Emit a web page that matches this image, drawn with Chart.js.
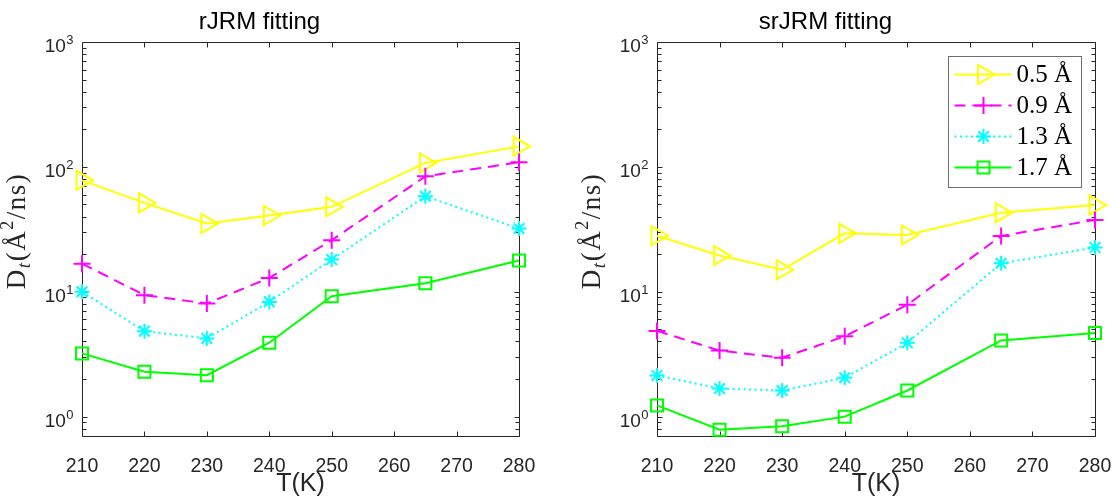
<!DOCTYPE html>
<html>
<head>
<meta charset="utf-8">
<script src="https://cdn.jsdelivr.net/npm/chart.js@4/dist/chart.umd.min.js"></script>
<style>
  body { margin: 0; background: #fff; width: 1113px; height: 497px; overflow: hidden; position: relative; }
  .panel { position: absolute; top: 0; height: 497px; }
</style>
</head>
<body>
<div class="panel" style="left:0;width:556px"><canvas id="graficoIzq"></canvas></div>
<div class="panel" style="left:556px;width:557px"><canvas id="graficoDer"></canvas></div>
<script>
// datos
const temperaturas = [210, 220, 230, 240, 250, 265, 280];
const etiquetas = ['0.5 Å', '0.9 Å', '1.3 Å', '1.7 Å'];

const rjrm05 = [78, 51.5, 35.2, 40.8, 47.9, 107.6, 146];
const rjrm09 = [16.8, 9.4, 8.06, 12.9, 25.9, 84, 109];
const rjrm13 = [10, 4.84, 4.23, 8.3, 18.1, 58.2, 32.1];
const rjrm17 = [3.21, 2.29, 2.15, 3.91, 9.2, 11.7, 17.8];

const srjrm05 = [28.1, 19.5, 15.0, 29.4, 28.5, 43, 49.5];
const srjrm09 = [4.86, 3.38, 2.96, 4.4, 7.87, 28, 37.6];
const srjrm13 = [2.14, 1.68, 1.62, 2.05, 3.9, 16.9, 22.6];
const srjrm17 = [1.23, 0.787, 0.837, 1.0, 1.62, 4.08, 4.68];

const ticksX = [210, 220, 230, 240, 250, 260, 270, 280];
const ticksY = [1, 10, 100, 1000];
const exponentes = ['0', '1', '2', '3'];

// estilo tipo MATLAB
const colores = ['#ffff00', '#ff00ff', '#00ffff', '#00ff00'];
const guiones = [[], [11, 7], [2, 3.5], []];
const marcas = ['triangle', 'cross', 'star', 'rect'];
const giros = [90, 0, 0, 0];
const radios = [11, 8.5, 7.5, 8.5];
const sans = '"Liberation Sans", Arial, Helvetica, sans-serif';
const serif = '"Liberation Serif", "Times New Roman", serif';
const colorEje = '#262626';

function serie(vals) {
  return temperaturas.map((t, i) => ({ x: t, y: vals[i] }));
}

function conjuntos(grupo) {
  return grupo.map((vals, i) => ({
    label: etiquetas[i],
    data: serie(vals),
    borderColor: colores[i],
    backgroundColor: 'rgba(0,0,0,0)',
    borderWidth: 2,
    borderDash: guiones[i],
    pointStyle: marcas[i],
    pointRotation: giros[i],
    pointRadius: radios[i],
    pointHoverRadius: radios[i],
    pointBorderWidth: 2,
    pointBorderColor: colores[i],
    pointBackgroundColor: 'rgba(0,0,0,0)',
    tension: 0,
    clip: false,
    order: 3 - i
  }));
}

// caja, ticks hacia dentro y etiquetas del eje y
const ejesMatlab = {
  id: 'ejesMatlab',
  beforeDatasetsDraw(chart) {
    const { ctx, chartArea: a, scales: { x, y } } = chart;
    ctx.save();
    ctx.strokeStyle = colorEje;
    ctx.lineWidth = 1;
    const L = Math.round(a.left) + 0.5, R = Math.round(a.right) + 0.5;
    const T = Math.round(a.top) + 0.5, B = Math.round(a.bottom) + 0.5;
    ctx.beginPath();
    ctx.rect(L, T, R - L, B - T);
    ticksX.forEach(v => {
      const px = Math.round(x.getPixelForValue(v)) + 0.5;
      ctx.moveTo(px, B); ctx.lineTo(px, B - 5);
      ctx.moveTo(px, T); ctx.lineTo(px, T + 5);
    });
    for (let d = -1; d <= 3; d++) {
      for (let k = 1; k <= 9; k++) {
        const v = k * Math.pow(10, d);
        if (v < y.min || v > y.max) continue;
        const py = Math.round(y.getPixelForValue(v)) + 0.5;
        const len = k === 1 ? 5 : 4;
        ctx.moveTo(L, py); ctx.lineTo(L + len, py);
        ctx.moveTo(R, py); ctx.lineTo(R - len, py);
      }
    }
    ctx.stroke();

    // etiquetas 10^n
    ctx.fillStyle = colorEje;
    ctx.textBaseline = 'alphabetic';
    const xFin = a.left - 8.5;
    ticksY.forEach((v, i) => {
      const py = y.getPixelForValue(v);
      ctx.font = '13px ' + sans;
      const wExp = ctx.measureText(exponentes[i]).width;
      ctx.textAlign = 'left';
      ctx.fillText(exponentes[i], xFin - wExp, py + 2);
      ctx.font = '19px ' + sans;
      ctx.textAlign = 'right';
      ctx.fillText('10', xFin - wExp - 0.5, py + 10);
    });

    // titulo del eje y: D_t(Å^2/ns)
    const partes = [
      { t: 'D', f: '27px ' + serif, dy: 0 },
      { t: 't', f: 'italic 19px ' + serif, dy: 5 },
      { t: '(Å', f: '27px ' + serif, dy: 0 },
      { t: '2', f: '18px ' + serif, dy: -12 },
      { t: '/ns)', f: '27px ' + serif, dy: 0 }
    ];
    ctx.fillStyle = colorEje;
    ctx.textAlign = 'left';
    ctx.letterSpacing = '1.5px';
    let total = 0;
    partes.forEach(p => { ctx.font = p.f; p.w = ctx.measureText(p.t).width; total += p.w; });
    ctx.translate(a.left - 57, (a.top + a.bottom) / 2 - 8);
    ctx.rotate(-Math.PI / 2);
    let cx = -total / 2;
    partes.forEach(p => { ctx.font = p.f; ctx.fillText(p.t, cx, p.dy); cx += p.w; });
    ctx.restore();
  }
};

const leyenda = {
  id: 'leyenda',
  afterDatasetsDraw(chart) {
    const { ctx, chartArea: a } = chart;
    const izq = Math.round(a.right - 147) + 0.5, arr = Math.round(a.top + 14) + 0.5;
    const ancho = 133, alto = 131;
    ctx.save();
    ctx.fillStyle = '#fff';
    ctx.fillRect(izq, arr, ancho, alto);
    ctx.strokeStyle = '#6e6e6e';
    ctx.lineWidth = 1;
    ctx.strokeRect(izq, arr, ancho, alto);
    chart.data.datasets.forEach((ds, i) => {
      const yy = arr + 18 + i * 31;
      ctx.strokeStyle = ds.borderColor;
      ctx.lineWidth = ds.borderWidth;
      ctx.setLineDash(ds.borderDash);
      ctx.beginPath();
      ctx.moveTo(izq + 6, yy);
      ctx.lineTo(izq + 63, yy);
      ctx.stroke();
      ctx.setLineDash([]);
      ctx.fillStyle = 'rgba(0,0,0,0)';
      ctx.lineWidth = ds.pointBorderWidth;
      Chart.helpers.drawPoint(ctx, {
        pointStyle: ds.pointStyle, rotation: ds.pointRotation,
        radius: ds.pointRadius, borderWidth: ds.pointBorderWidth
      }, izq + 35, yy);
      ctx.fillStyle = '#000';
      ctx.font = '25px ' + serif;
      ctx.textAlign = 'left';
      ctx.textBaseline = 'middle';
      ctx.fillText(ds.label, izq + 68, yy + 1);
    });
    ctx.restore();
  }
};

function opciones(titulo, margenDer, anchoY) {
  return {
    animation: false,
    responsive: true,
    maintainAspectRatio: false,
    layout: { padding: { left: 0, right: margenDer, top: 0, bottom: 0 } },
    plugins: {
      legend: { display: false },
      tooltip: { enabled: false },
      title: {
        display: true, text: titulo, color: '#000',
        font: { family: sans, size: 24, weight: 'normal', lineHeight: 1.2 },
        padding: { top: 8, bottom: 5.2 }
      }
    },
    scales: {
      x: {
        type: 'linear', min: 210, max: 280,
        afterBuildTicks: s => { s.ticks = ticksX.map(v => ({ value: v })); },
        grid: { display: false, drawTicks: true, tickLength: 19 },
        border: { display: false },
        ticks: { color: colorEje, font: { family: sans, size: 19.5 }, padding: 0, maxRotation: 0, autoSkip: false },
        title: {
          display: true, text: 'T(K)', color: colorEje,
          font: { family: sans, size: 25, lineHeight: 1 }, padding: { top: 0, bottom: 0 }
        },
        afterFit: s => { s.height = 61; }
      },
      y: {
        type: 'logarithmic', min: 0.7, max: 1000,
        grid: { display: false, drawTicks: false },
        border: { display: false },
        ticks: { display: false },
        afterFit: s => { s.width = anchoY; }
      }
    }
  };
}

new Chart(document.getElementById('graficoIzq'), {
  type: 'line',
  data: { datasets: conjuntos([rjrm05, rjrm09, rjrm13, rjrm17]) },
  options: opciones('rJRM fitting', 37, 82),
  plugins: [ejesMatlab]
});

new Chart(document.getElementById('graficoDer'), {
  type: 'line',
  data: { datasets: conjuntos([srjrm05, srjrm09, srjrm13, srjrm17]) },
  options: opciones('srJRM fitting', 18, 101),
  plugins: [ejesMatlab, leyenda]
});
</script>
</body>
</html>
